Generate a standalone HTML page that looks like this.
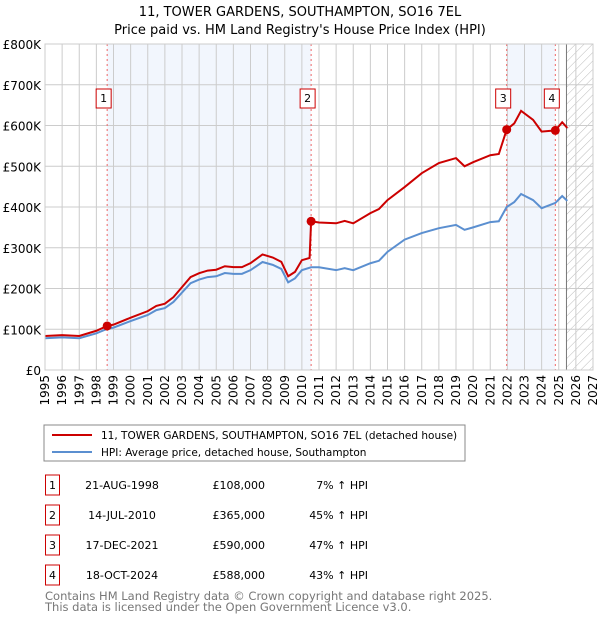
<!DOCTYPE html>
<html><head><meta charset="utf-8"><style>
body{margin:0;background:#fff;font-family:"DejaVu Sans","Liberation Sans",sans-serif;}
svg text{font-family:"DejaVu Sans","Liberation Sans",sans-serif;}
</style></head><body>
<svg id="c" width="600" height="620" xmlns="http://www.w3.org/2000/svg">
<defs><pattern id="hatch" width="6" height="6" patternUnits="userSpaceOnUse" patternTransform="rotate(45)"><line x1="0" y1="0" x2="0" y2="6" stroke="#bbb" stroke-width="1"/></pattern></defs>
<text x="300" y="16" text-anchor="middle" font-size="13">11, TOWER GARDENS, SOUTHAMPTON, SO16 7EL</text>
<text x="300" y="34" text-anchor="middle" font-size="13">Price paid vs. HM Land Registry's House Price Index (HPI)</text>
<g id="plot"></g>
<g>
<rect x="44" y="425" width="421" height="36" fill="#fff" stroke="#888"/>
<line x1="52" y1="435" x2="92" y2="435" stroke="#cc0000" stroke-width="2"/>
<text x="101" y="439" font-size="10.5">11, TOWER GARDENS, SOUTHAMPTON, SO16 7EL (detached house)</text>
<line x1="52" y1="452" x2="92" y2="452" stroke="#5b8fd0" stroke-width="2"/>
<text x="101" y="456" font-size="10.5">HPI: Average price, detached house, Southampton</text>
</g>
<g id="table" font-size="11"></g>
<text x="45" y="600" font-size="11.5" fill="#777">Contains HM Land Registry data © Crown copyright and database right 2025.</text>
<text x="45" y="611" font-size="11.5" fill="#777">This data is licensed under the Open Government Licence v3.0.</text>
</svg>
<script>
const hpiYears=[1995,1996,1997,1998,1998.63,1999,2000,2001,2001.5,2002,2002.5,2003,2003.5,2004,2004.5,2005,2005.5,2006,2006.5,2007,2007.7,2008.3,2008.8,2009.2,2009.6,2010,2010.54,2011,2012,2012.5,2013,2014,2014.5,2015,2016,2017,2018,2019,2019.5,2020,2021,2021.5,2021.96,2022.4,2022.8,2023.5,2024,2024.8,2025.2,2025.5];
const hpiValues=[78000,80000,78000,90000,101000,104000,120000,135000,147000,152000,167000,190000,213000,222000,228000,230000,238000,236000,236000,245000,265000,258000,248000,215000,225000,245000,252000,252000,245000,250000,245000,262000,268000,290000,320000,336000,348000,356000,344000,350000,363000,365000,400000,412000,432000,417000,397000,410000,427000,415000];
const saleYears=[1998.63,2010.54,2021.96,2024.8];
const saleValues=[108000,365000,590000,588000];
const saleRatio=[1.07,1.07,1.07,1.07,1.07,1.07,1.07,1.07,1.07,1.07,1.07,1.07,1.07,1.07,1.07,1.07,1.07,1.07,1.07,1.07,1.07,1.07,1.07,1.07,1.07,1.10];
const propYears=[2010.54,2011,2012,2012.5,2013,2014,2014.5,2015,2016,2017,2018,2019,2019.5,2020,2021,2021.5,2021.96,2022.4,2022.8,2023.5,2024,2024.8,2025.2,2025.5];
const propValues=[365000,362000,360000,366000,360000,385000,395000,417000,449000,483000,508000,520000,500000,510000,527000,530000,590000,605000,636000,614000,585000,588000,608000,594000];
const yTicks=[0,100000,200000,300000,400000,500000,600000,700000,800000];
const yLabels=["£0","£100K","£200K","£300K","£400K","£500K","£600K","£700K","£800K"];
const xTicks=[1995,1996,1997,1998,1999,2000,2001,2002,2003,2004,2005,2006,2007,2008,2009,2010,2011,2012,2013,2014,2015,2016,2017,2018,2019,2020,2021,2022,2023,2024,2025,2026,2027];
const tableDates=["21-AUG-1998","14-JUL-2010","17-DEC-2021","18-OCT-2024"];
const tablePrices=["£108,000","£365,000","£590,000","£588,000"];
const tablePct=["7% ↑ HPI","45% ↑ HPI","47% ↑ HPI","43% ↑ HPI"];

const L=45,R=593,T=44,B=370;
const x=y=>L+(y-1995)/32*(R-L);
const yv=v=>B-v/800000*(B-T);
const NS="http://www.w3.org/2000/svg";
const g=document.getElementById('plot');
function el(t,a,p){const e=document.createElementNS(NS,t);for(const k in a)e.setAttribute(k,a[k]);(p||g).appendChild(e);return e;}
let s1=el('rect',{x:x(saleYears[0]),y:T,width:x(saleYears[1])-x(saleYears[0]),height:B-T,fill:'#eef3fc',opacity:0.75});


let s2=el('rect',{x:x(saleYears[2]),y:T,width:x(saleYears[3])-x(saleYears[2]),height:B-T,fill:'#eef3fc',opacity:0.75});


let hz=el('rect',{x:x(2025.45),y:T,width:R-x(2025.45),height:B-T,fill:'url(#hatch)'});


yTicks.forEach((v,i)=>{
 let l=el('line',{x1:L,x2:R,y1:yv(v),y2:yv(v),stroke:'#ccc'});
 
 
 let t=el('text',{x:L-4,y:yv(v)+5,'text-anchor':'end','font-size':12});
 
 
 t.textContent=yLabels[i];
});
xTicks.forEach(yr=>{
 let l=el('line',{x1:x(yr),x2:x(yr),y1:T,y2:B,stroke:'#ccc'});
 
 
 let t=el('text',{x:0,y:0,'text-anchor':'end','font-size':12,transform:`translate(${x(yr)+4},${B+5}) rotate(-90)`});
 
 
 t.textContent=yr;
});
let dl=el('line',{x1:x(2025.45),x2:x(2025.45),y1:T,y2:B,stroke:'#777'});


saleYears.forEach((yr,i)=>{
 let l=el('line',{x1:x(yr),x2:x(yr),y1:T,y2:B,stroke:'#e66','stroke-dasharray':'2,3'});
 
 
});
let hp=hpiYears.map((yr,i)=>x(yr)+','+yv(hpiValues[i])).join(' ');
let hl=el('polyline',{points:hp,fill:'none',stroke:'#5b8fd0','stroke-width':2});


let pts=[];
hpiYears.forEach((yr,i)=>{if(yr<2010.5)pts.push(x(yr)+','+yv(hpiValues[i]*(saleRatio[i]||1.07)));});
pts.push(x(2010.45)+','+yv(275000));
propYears.forEach((yr,i)=>pts.push(x(yr)+','+yv(propValues[i])));
let pl=el('polyline',{points:pts.join(' '),fill:'none',stroke:'#cc0000','stroke-width':2});


saleYears.forEach((yr,i)=>{
 let c=el('circle',{cx:x(yr),cy:yv(saleValues[i]),r:4.5,fill:'#cc0000'});
 
 
 let bx=x(yr)-11;
 let r=el('rect',{x:bx,y:89,width:15,height:19,fill:'#fff',stroke:'#cc0000'});
 
 
 let t=el('text',{x:bx+7.5,y:102,'text-anchor':'middle','font-size':11});
 
 
 t.textContent=i+1;
});
let fr=el('rect',{x:L,y:T,width:R-L,height:B-T,fill:'none',stroke:'#ccc'});


const tb=document.getElementById('table');
tableDates.forEach((d,i)=>{
 const cy=485+i*30;
 let r=el('rect',{x:45.5,y:cy-10,width:14,height:20,fill:'#fff',stroke:'#cc0000'},tb);
 
 
 let n=el('text',{x:52.5,y:cy+4,'text-anchor':'middle'},tb);
 
 
 n.textContent=i+1;
 let a=el('text',{x:122,y:cy+4,'text-anchor':'middle'},tb);
 
 
 a.textContent=d;
 let b=el('text',{x:265,y:cy+4,'text-anchor':'end'},tb);
 
 
 b.textContent=tablePrices[i];
 let c=el('text',{x:368,y:cy+4,'text-anchor':'end'},tb);
 
 
 c.textContent=tablePct[i];
});
</script>
</body></html>
